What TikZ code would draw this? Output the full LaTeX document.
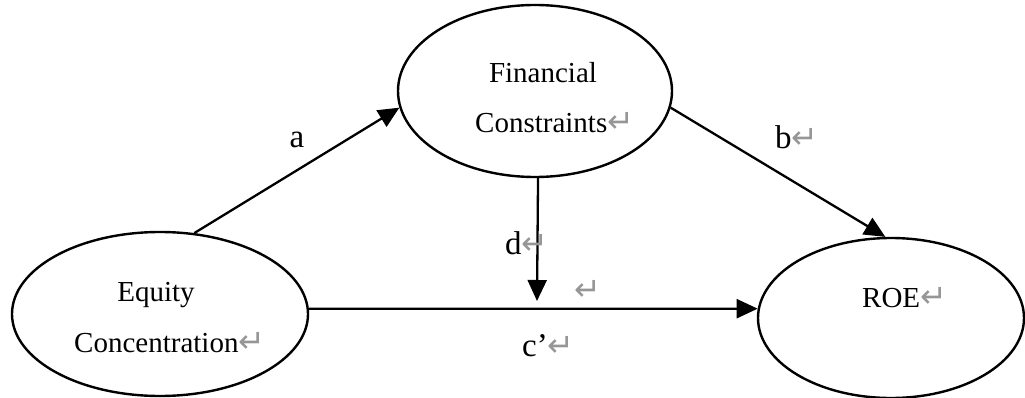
\documentclass[tikz,border=0pt]{standalone}
\usepackage{fontspec}
\setmainfont{Liberation Serif}
\newfontfamily\symfont{DejaVu Sans}
\usetikzlibrary{shapes.geometric,arrows.meta}
\newcommand{\ret}{{\symfont\fontsize{32}{32}\selectfont\textcolor{retgray}{↵}}}
\definecolor{retgray}{RGB}{150,150,150}
\begin{document}
\begin{tikzpicture}[x=1pt,y=-1pt,
  oval/.style={draw=black,line width=2.4pt,ellipse,inner sep=0pt},
  conn/.style={line width=2.3pt,-{Triangle[length=21pt,width=19pt]}},
  txt/.style={font=\fontsize{29}{30}\selectfont,inner sep=0pt},
  lbl/.style={font=\fontsize{33}{34}\selectfont,inner sep=0pt}]
\useasboundingbox (0,0) rectangle (1025,398);
\node[oval,minimum width=274pt,minimum height=172pt] (FC) at (535,91) {};
\node[oval,minimum width=296pt,minimum height=164pt] (EC) at (160,314) {};
\node[oval,minimum width=266pt,minimum height=160pt] (ROE) at (891,318) {};
\node[txt] (t1) at (543,73) {Financial};
\node[txt,anchor=west] (t2) at (475,123) {Constraints\ret};
\node[txt] (t3) at (156,295) {Equity};
\node[txt,anchor=west] (t4) at (74,343) {Concentration\ret};
\node[txt,anchor=west] (t5) at (862,298) {ROE\ret};
\coordinate (dend) at (537,301);
\draw[conn] (EC.67) -- (FC.187);
\draw[conn] (FC.353) -- (ROE.94);
\draw[conn] (FC.272) -- (dend);
\draw[conn] (EC.2) -- (ROE.176);
\node[lbl] (la) at (297,140) {a};
\node[lbl,anchor=west] (lb) at (775,137) {b\ret};
\node[lbl,anchor=west] (ld) at (505,243) {d\ret};
\node[lbl,anchor=west] (lc) at (522,346) {c’\ret};
\node[inner sep=0pt] (lr) at (588,290) {\ret};
\end{tikzpicture}
\end{document}
